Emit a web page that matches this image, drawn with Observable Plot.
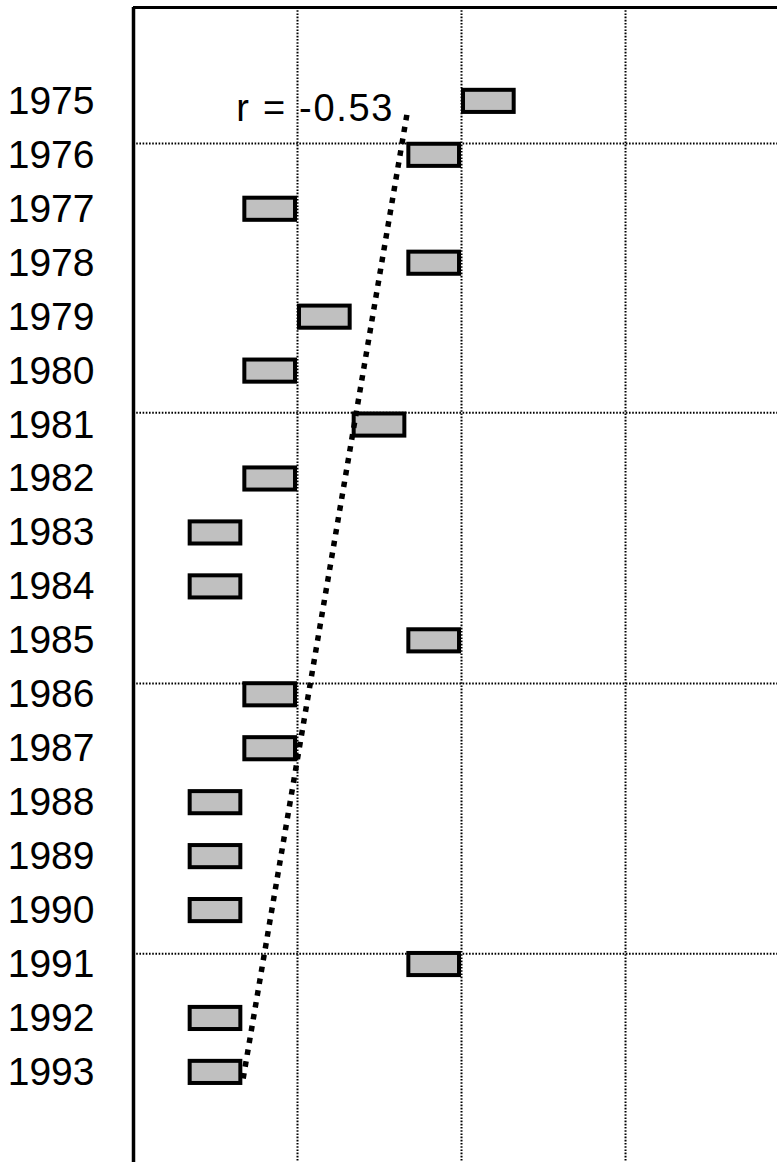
<!DOCTYPE html>
<html>
<head>
<meta charset="utf-8">
<script src="https://cdn.jsdelivr.net/npm/d3@7"></script>
<script src="https://cdn.jsdelivr.net/npm/@observablehq/plot@0.6"></script>
<style>
  html, body { margin: 0; padding: 0; background: #fff; }
  #chart svg { display: block; font-family: "Liberation Sans", Arial, Helvetica, sans-serif; }
</style>
</head>
<body>
<div id="chart"></div>
<script>
// ---- data ----
const years = [1975,1976,1977,1978,1979,1980,1981,1982,1983,1984,1985,1986,1987,1988,1989,1990,1991,1992,1993];
const values = [6,5,2,5,3,2,4,2,1,1,5,2,2,1,1,1,5,1,1]; // left edge of each box (box spans one unit)
const xGrid = [3, 6, 9];
const yGrid = [1975.78, 1980.77, 1985.79, 1990.8];
const trendX = [5, 2];
const trendYear = [1975.25, 1993.15];
const annotation = ["r = -0.53"];
const annotationX = [1.88];
const annotationYear = [1975.13];
const xDomain = [0, 11.78];
const yDomain = [1973.26, 1994.67];

const boxes = years.map((y, i) => ({year: y, v: values[i]}));
const trend = trendX.map((x, i) => ({x, year: trendYear[i]}));
const notes = annotation.map((t, i) => ({t, x: annotationX[i], year: annotationYear[i]}));

const chart = Plot.plot({
  width: 777,
  height: 1162,
  marginLeft: 133,
  marginRight: 0,
  marginTop: 7,
  marginBottom: 0,
  x: {domain: xDomain, axis: null},
  y: {domain: yDomain, reverse: true, axis: null},
  marks: [
    Plot.ruleX(xGrid, {stroke: "#000", strokeWidth: 2, strokeDasharray: "1.6,1.6"}),
    Plot.ruleY(yGrid, {stroke: "#000", strokeWidth: 2, strokeDasharray: "1.6,1.6"}),
    Plot.ruleX([xDomain[0]], {stroke: "#000", strokeWidth: 3.5}),
    Plot.ruleY([yDomain[0]], {stroke: "#000", strokeWidth: 3}),
    Plot.rect(boxes, {
      x1: "v", x2: d => d.v + 1,
      y1: d => d.year - 0.205, y2: d => d.year + 0.205,
      insetLeft: 2, insetRight: 2,
      fill: "#c0c0c0", stroke: "#000", strokeWidth: 4
    }),
    Plot.line(trend, {x: "x", y: "year", stroke: "#000", strokeWidth: 5.5, strokeDasharray: "5.5,6.5", strokeLinecap: "butt"}),
    Plot.text(notes, {x: "x", y: "year", text: "t", textAnchor: "start", fontSize: 38, fill: "#000"}),
    Plot.axisY(years, {
      tickSize: 0, tickPadding: 39, fontSize: 39, tickFormat: d => String(d), label: null, color: "#000"
    })
  ]
});
chart.querySelectorAll("text").forEach(t => {
  if (t.textContent === annotation[0]) t.setAttribute("letter-spacing", "1.7px");
});
document.getElementById("chart").appendChild(chart);
</script>
</body>
</html>
